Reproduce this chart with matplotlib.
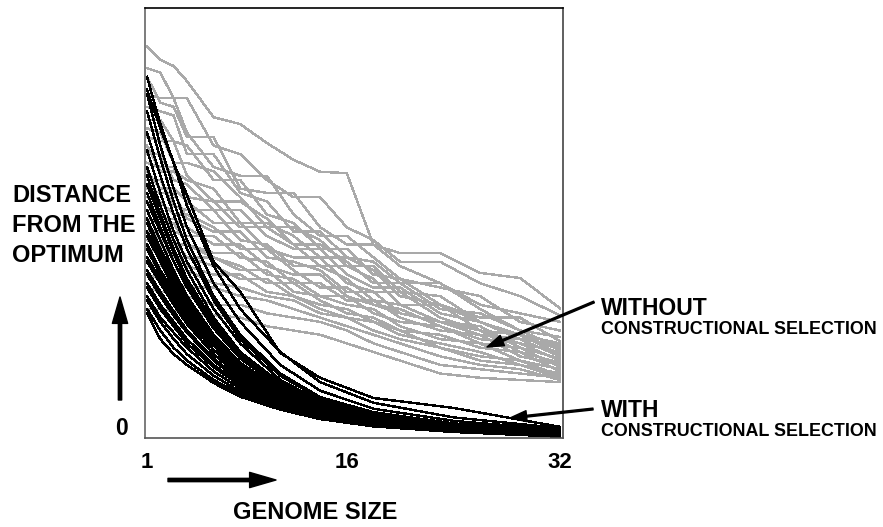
import matplotlib
matplotlib.use("Agg")

import matplotlib.pyplot as plt

W, H = 883, 527

# genome sizes sampled for each run (black runs are smooth, gray runs are ragged)
x_with = [1, 2, 3, 4, 6, 8, 11, 14, 18, 24, 32]
x_without = [1, 2, 3, 4, 6, 8, 10, 12, 14, 16, 18, 20, 23, 26, 29, 32]

# distance from the optimum, runs WITH constructional selection
with_runs = [
    [84, 73, 64, 54, 40, 30, 20, 13, 8.2, 4.8, 2.3],
    [80, 68, 58, 49, 36, 27, 17, 11, 6.8, 4.0, 1.9],
    [76, 65, 55, 46, 33, 24, 15, 9.5, 6.0, 3.4, 1.6],
    [71, 61, 52, 44, 32, 23, 14.5, 9.2, 5.6, 3.2, 1.5],
    [67, 57, 48, 41, 30, 22, 13.5, 8.6, 5.2, 3.0, 1.3],
    [63, 54, 46, 39, 28, 20, 12.8, 8.2, 5.0, 2.8, 1.2],
    [61, 52, 44, 37, 27, 19.5, 12.3, 7.8, 4.7, 2.6, 1.1],
    [59, 51, 43, 36, 26, 19, 12.0, 7.6, 4.6, 2.5, 1.0],
    [57, 49, 41, 35, 25.5, 18.5, 11.8, 7.4, 4.5, 2.4, 1.0],
    [55, 48, 41, 35, 26, 19.5, 12.8, 8.4, 5.2, 2.9, 1.4],
    [53, 46, 39, 33, 24, 17.5, 11.2, 7.2, 4.3, 2.3, 0.9],
    [51, 44, 38, 32, 23.5, 17, 10.8, 6.9, 4.1, 2.2, 0.8],
    [50, 43, 37, 31.5, 23, 16.8, 10.6, 6.8, 4.0, 2.1, 0.8],
    [48, 42, 36, 31, 23, 17, 11.2, 7.5, 4.7, 2.7, 1.3],
    [47, 41, 35, 30, 22, 16, 10.2, 6.5, 3.9, 2.0, 0.7],
    [45, 39, 34, 29, 21.5, 15.8, 10.0, 6.4, 3.8, 2.0, 0.7],
    [44, 38, 33, 28, 20.5, 15, 9.6, 6.2, 3.7, 1.9, 0.6],
    [42, 37, 32, 27.5, 20.5, 15.2, 10.0, 6.6, 4.1, 2.3, 1.0],
    [41, 36, 31, 26.5, 19.5, 14.3, 9.2, 5.9, 3.5, 1.8, 0.6],
    [39, 34, 29.5, 25, 18.5, 13.6, 8.8, 5.7, 3.4, 1.7, 0.5],
    [38, 33, 28.5, 24.5, 18, 13.2, 8.6, 5.6, 3.4, 1.8, 0.6],
    [36, 31, 27, 23, 17, 12.6, 8.2, 5.4, 3.3, 1.7, 0.5],
    [35, 30, 26, 22, 16.5, 12.2, 8.0, 5.3, 3.2, 1.6, 0.5],
    [33, 28, 24.5, 21, 15.5, 11.5, 7.6, 5.0, 3.0, 1.5, 0.4],
    [32, 27, 23, 19.5, 14.5, 10.8, 7.2, 4.8, 2.9, 1.5, 0.4],
    [30, 25, 21, 18, 13.5, 10.2, 7.0, 4.7, 2.9, 1.5, 0.4],
    [29, 23, 19.5, 17, 12.8, 9.6, 6.6, 4.4, 2.7, 1.4, 0.3],
    [81, 72, 64, 56.5, 41, 34, 19.8, 14, 9.3, 7.0, 2.6],
]

# distance from the optimum, runs WITHOUT constructional selection
without_runs = [
    [91, 88, 86.5, 83, 74.6, 73, 68.6, 64.7, 61.9, 61.6, 44.9, 43, 43, 38.4, 37.2, 30.2],
    [86, 85, 79, 79, 68, 66, 60, 56, 56, 49, 46, 41, 41, 36, 33, 28.5],
    [84, 78, 77, 70, 70, 58, 57, 57, 49, 45, 45, 40, 36, 31, 29, 27],
    [80, 79, 79, 71, 63, 61, 61, 52, 47, 47, 42, 37, 35, 33, 27, 25],
    [77, 76, 75, 66, 66, 57, 55, 48, 48, 42, 41, 36, 36, 30, 25, 23.5],
    [74, 74, 69, 68, 60, 60, 52, 50, 44, 44, 38, 37, 31, 28, 28, 22.5],
    [72, 71, 64, 64, 62, 56, 49, 49, 46, 40, 40, 34, 33, 27, 24, 22],
    [70, 69, 69, 61, 55, 55, 51, 45, 45, 41, 36, 36, 30, 29, 25, 21],
    [68, 62, 62, 60, 58, 50, 50, 47, 42, 42, 39, 33, 31, 27, 24, 20.5],
    [66, 66, 60, 59, 53, 53, 47, 44, 44, 38, 35, 35, 29, 27, 23, 21.5],
    [64, 63, 63, 56, 55, 49, 49, 45, 40, 40, 37, 31, 31, 25, 24, 19.5],
    [62, 58, 58, 55, 50, 50, 44, 42, 42, 36, 34, 34, 28, 25, 22, 20],
    [60, 60, 54, 53, 53, 46, 45, 40, 40, 37, 32, 31, 27, 26, 21, 18.5],
    [58, 57, 57, 51, 48, 48, 42, 41, 39, 34, 34, 29, 27, 24, 23, 19],
    [56, 55, 52, 52, 49, 44, 44, 39, 35, 35, 31, 29, 27, 25, 20, 17.5],
    [55, 51, 51, 49, 45, 45, 40, 38, 38, 33, 31, 30, 26, 23, 22, 18],
    [53, 53, 48, 47, 47, 42, 41, 36, 36, 32, 32, 28, 25, 24, 19, 17],
    [51, 50, 50, 45, 43, 43, 38, 37, 33, 33, 29, 27, 26, 22, 21, 16.5],
    [50, 46, 45, 45, 42, 39, 39, 34, 33, 31, 30, 26, 23, 22, 18, 16],
    [48, 48, 46, 42, 42, 40, 36, 36, 32, 29, 28, 25, 24, 21, 20, 15.5],
    [46, 45, 42, 42, 40, 37, 37, 33, 31, 30, 27, 24, 22, 20, 17, 15],
    [44, 43, 43, 40, 38, 38, 34, 33, 30, 28, 27, 25, 21, 19, 18, 14.5],
    [41, 40, 39, 39, 36, 35, 33, 32, 29, 28, 25, 23, 21, 18, 17, 14],
    [38, 37, 36, 35, 35, 33, 32, 30, 28, 26, 24, 22, 19, 17, 16, 13.5],
    [35, 34, 34, 33, 31, 31, 29, 28, 27, 25, 22, 20, 17, 16, 15, 14],
    [30, 30, 29.5, 29, 28.6, 28, 26, 25, 24, 22, 20, 18, 15, 14, 13.5, 13],
]

x_ticks = [1, 16, 32]
tick_labels = ["1", "16", "32"]

plt.rcParams["font.family"] = ["Liberation Sans", "DejaVu Sans"]
plt.rcParams["font.weight"] = "bold"

fig = plt.figure(figsize=(W / 100, H / 100), dpi=100)
# axes box in pixels: left 145, right 563, top 8, bottom 438
ax = fig.add_axes([145 / W, 1 - 438 / H, (563 - 145) / W, (438 - 8) / H])

for run in without_runs:
    ax.plot(x_without, run, color="#a9a9a9", linewidth=1.0, antialiased=False)
for run in with_runs:
    ax.plot(x_with, run, color="black", linewidth=1.0, antialiased=False)

ax.set_xlim(0.85, 32.23)
ax.set_ylim(0, 100)
ax.set_yticks([])
ax.set_xticks(x_ticks)
ax.set_xticklabels(tick_labels, fontsize=16, fontweight="bold")
ax.tick_params(axis="x", length=0, pad=10)

ax.spines["top"].set_color("black")
ax.spines["right"].set_color("#444444")
ax.spines["left"].set_color("#666666")
ax.spines["bottom"].set_color("#555555")
for s in ax.spines.values():
    s.set_linewidth(1.2)


def px(x, y):
    """pixel position (from top-left) -> figure fraction"""
    return x / W, 1 - y / H


# y-axis label and zero
for txt, base in [("DISTANCE", 202), ("FROM THE", 232), ("OPTIMUM", 262)]:
    fig.text(*px(12, base), txt, fontsize=17, fontweight="bold", va="baseline", ha="left")
fig.text(*px(128, 435), "0", fontsize=16.5, fontweight="bold", va="baseline", ha="right")

fig.text(*px(315, 519), "GENOME SIZE", fontsize=17, fontweight="bold", va="baseline", ha="center")

# annotations on the right
fig.text(*px(601, 315), "WITHOUT", fontsize=16.5, fontweight="bold", va="baseline")
fig.text(*px(601, 334), "CONSTRUCTIONAL SELECTION", fontsize=12.9, fontweight="bold", va="baseline")
fig.text(*px(601, 417), "WITH", fontsize=16.5, fontweight="bold", va="baseline")
fig.text(*px(601, 436), "CONSTRUCTIONAL SELECTION", fontsize=12.9, fontweight="bold", va="baseline")

big_arrow = dict(facecolor="black", edgecolor="black", width=2.4, headwidth=11, headlength=19, shrink=0)
small_arrow = dict(facecolor="black", edgecolor="black", width=1.3, headwidth=8, headlength=12, shrink=0)

fig.add_artist(plt.Annotation("", xy=px(120, 297), xytext=px(120, 400),
                              xycoords="figure fraction", arrowprops=big_arrow))
fig.add_artist(plt.Annotation("", xy=px(276, 480), xytext=px(168, 480),
                              xycoords="figure fraction", arrowprops=big_arrow))
fig.add_artist(plt.Annotation("", xy=px(487, 347), xytext=px(594, 302),
                              xycoords="figure fraction", arrowprops=small_arrow))
fig.add_artist(plt.Annotation("", xy=px(510, 418), xytext=px(593, 409),
                              xycoords="figure fraction", arrowprops=small_arrow))

fig.savefig("out.png", dpi=100)
plt.close(fig)
